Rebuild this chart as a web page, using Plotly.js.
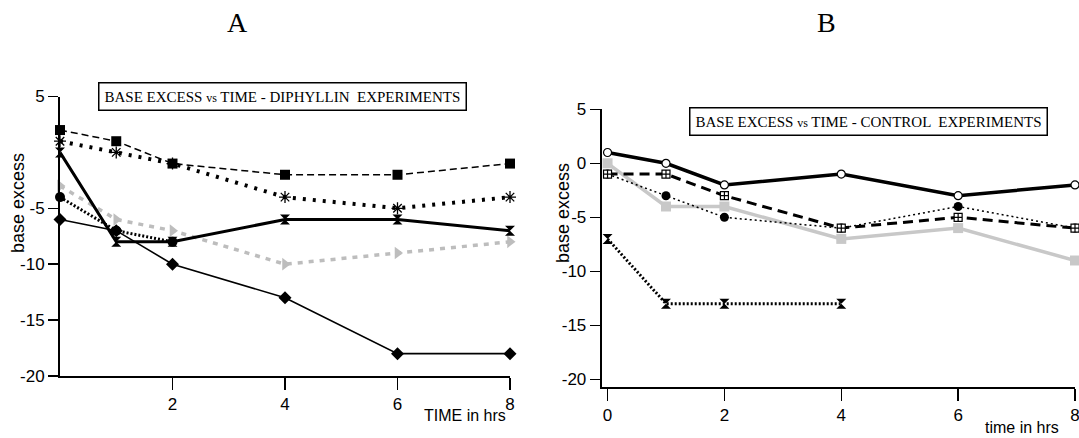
<!DOCTYPE html>
<html>
<head>
<meta charset="utf-8">
<script src="https://cdn.plot.ly/plotly-3.0.1.min.js"></script>
<style>html,body{margin:0;padding:0;background:#fff;}#chart{width:1079px;height:438px;}</style>
</head>
<body>
<div id="chart"></div>
<script>
// ---- Panel A: diphyllin experiments ----
var timeA = [0, 1, 2, 4, 6, 8];
var aSquares   = [2, 1, -1, -2, -2, -1];
var aAsterisks = [1, 0, -1, -4, -5, -4];
var aHourglass = [0, -8, -8, -6, -6, -7];
var aDiamonds  = [-6, -7, -10, -13, -18, -18];
var timeACircles = [0, 1, 2];
var aCircles   = [-4, -7, -8];
var aTriangles = [-3, -6, -7, -10, -9, -8];

// ---- Panel B: control experiments ----
var timeB = [0, 1, 2, 4, 6, 8];
var bOpenCircles = [1, 0, -2, -1, -3, -2];
var bSquareCross = [-1, -1, -3, -6, -5, -6];
var bDots        = [-1, -3, -5, -6, -4, -6];
var bGraySquares = [0, -4, -4, -7, -6, -9];
var timeBHour = [0, 1, 2, 4];
var bHourglass   = [-7, -13, -13, -13];

var xTicksA = [2, 4, 6, 8];
var xTickTextA = ['2', '4', '6', '8'];
var yTicksA = [-20, -15, -10, -5, 5];
var yTickTextA = ['-20', '-15', '-10', '-5', '5'];
var xTicksB = [0, 2, 4, 6, 8];
var xTickTextB = ['0', '2', '4', '6', '8'];
var yTicksB = [-20, -15, -10, -5, 0, 5];
var yTickTextB = ['-20', '-15', '-10', '-5', '0', '5'];

var W = 1079, H = 438;
function px(x){ return x / W; }
function py(y){ return 1 - y / H; }

var BLACK = '#000000', GRAY = '#bdbdbd';

var traces = [
  // Panel A
  {x: timeA, y: aTriangles, xaxis: 'x', yaxis: 'y', mode: 'lines+markers',
   line: {color: GRAY, width: 3.5, dash: '5px,6px'},
   marker: {symbol: 'triangle-right', size: 11, color: GRAY}},
  {x: timeA, y: aDiamonds, xaxis: 'x', yaxis: 'y', mode: 'lines+markers',
   line: {color: BLACK, width: 1.6},
   marker: {symbol: 'diamond', size: 10, color: BLACK}},
  {x: timeA, y: aHourglass, xaxis: 'x', yaxis: 'y', mode: 'lines+markers',
   line: {color: BLACK, width: 3},
   marker: {symbol: 'hourglass', size: 10, color: BLACK}},
  {x: timeACircles, y: aCircles, xaxis: 'x', yaxis: 'y', mode: 'lines+markers',
   line: {color: BLACK, width: 3, dash: '2px,2px'},
   marker: {symbol: 'circle', size: 10, color: BLACK}},
  {x: timeA, y: aAsterisks, xaxis: 'x', yaxis: 'y', mode: 'lines+markers',
   line: {color: BLACK, width: 4, dash: '3px,7px'},
   marker: {symbol: 'asterisk-open', size: 10, color: BLACK, line: {color: BLACK, width: 1.3}}},
  {x: timeA, y: aSquares, xaxis: 'x', yaxis: 'y', mode: 'lines+markers',
   line: {color: BLACK, width: 1.5, dash: '7px,4px'},
   marker: {symbol: 'square', size: 10, color: BLACK}},
  // Panel B
  {x: timeB, y: bGraySquares, xaxis: 'x2', yaxis: 'y2', mode: 'lines+markers',
   line: {color: '#c8c8c8', width: 3.5},
   marker: {symbol: 'square', size: 10, color: '#c8c8c8'}},
  {x: timeBHour, y: bHourglass, xaxis: 'x2', yaxis: 'y2', mode: 'lines+markers',
   line: {color: BLACK, width: 3, dash: '2px,2px'},
   marker: {symbol: 'hourglass', size: 10, color: BLACK}},
  {x: timeB, y: bDots, xaxis: 'x2', yaxis: 'y2', mode: 'lines+markers',
   line: {color: BLACK, width: 1.5, dash: '2px,3px'},
   marker: {symbol: 'circle', size: 9, color: BLACK}},
  {x: timeB, y: bSquareCross, xaxis: 'x2', yaxis: 'y2', mode: 'lines+markers',
   line: {color: BLACK, width: 3, dash: '10px,6px'},
   marker: {symbol: 'square-cross', size: 8, color: '#ffffff', line: {color: BLACK, width: 1.2}}},
  {x: timeB, y: bOpenCircles, xaxis: 'x2', yaxis: 'y2', mode: 'lines+markers',
   line: {color: BLACK, width: 3.5},
   marker: {symbol: 'circle', size: 8, color: '#ffffff', line: {color: BLACK, width: 1.2}}}
];
traces.forEach(function(t){ t.cliponaxis = false; t.showlegend = false; t.hoverinfo = 'skip'; });

var tickFont = {family: '"Liberation Sans Narrow", "Arial Narrow", "Liberation Sans", sans-serif', size: 17, color: BLACK};
function axisCommon(extra){
  var a = {showgrid: false, zeroline: false, showline: true, linecolor: BLACK, linewidth: 2,
           ticks: 'outside', tickcolor: BLACK, tickwidth: 1.5, tickfont: tickFont, fixedrange: true,
           ticklabeloverflow: 'allow'};
  for (var k in extra) a[k] = extra[k];
  return a;
}

var layout = {
  width: W, height: H,
  margin: {l: 0, r: 0, t: 0, b: 0},
  paper_bgcolor: '#ffffff', plot_bgcolor: 'rgba(0,0,0,0)',
  xaxis: axisCommon({domain: [px(60), px(510)], range: [0, 8], tickmode: 'array', tickvals: xTicksA, ticktext: xTickTextA, ticklen: 12, anchor: 'y'}),
  yaxis: axisCommon({domain: [py(376), py(96.5)], range: [-20, 5], tickmode: 'array', tickvals: yTicksA, ticktext: yTickTextA, ticklen: 10, anchor: 'x'}),
  xaxis2: axisCommon({domain: [px(601.7), px(1075)], range: [-0.1, 8], tickmode: 'array', tickvals: xTicksB, ticktext: xTickTextB, ticklen: 12, anchor: 'y2'}),
  yaxis2: axisCommon({domain: [py(386.7), py(109.3)], range: [-20.685, 5], tickmode: 'array', tickvals: yTicksB, ticktext: yTickTextB, ticklen: 10, anchor: 'x2'}),
  annotations: [
    {text: 'A', xref: 'paper', yref: 'paper', x: px(237.5), y: py(22), xanchor: 'center', yanchor: 'middle', showarrow: false,
     font: {family: '"Liberation Serif", "Times New Roman", serif', size: 28, color: BLACK}},
    {text: 'B', xref: 'paper', yref: 'paper', x: px(826), y: py(22), xanchor: 'center', yanchor: 'middle', showarrow: false,
     font: {family: '"Liberation Serif", "Times New Roman", serif', size: 28, color: BLACK}},
    {text: 'BASE EXCESS <span style="font-size:12px">vs</span> TIME - DIPHYLLIN  EXPERIMENTS', xref: 'paper', yref: 'paper',
     x: px(282.5), y: py(97), xanchor: 'center', yanchor: 'middle', showarrow: false,
     bordercolor: BLACK, borderwidth: 1.5, borderpad: 5, bgcolor: '#ffffff',
     font: {family: '"Liberation Serif", "Times New Roman", serif', size: 15, color: BLACK}},
    {text: 'BASE EXCESS <span style="font-size:12px">vs</span> TIME - CONTROL  EXPERIMENTS', xref: 'paper', yref: 'paper',
     x: px(868), y: py(121.5), xanchor: 'center', yanchor: 'middle', showarrow: false,
     bordercolor: BLACK, borderwidth: 1.5, borderpad: 5, bgcolor: '#ffffff',
     font: {family: '"Liberation Serif", "Times New Roman", serif', size: 15, color: BLACK}},
    {text: 'base excess', xref: 'paper', yref: 'paper', x: px(18), y: py(203), textangle: -90,
     xanchor: 'center', yanchor: 'middle', showarrow: false,
     font: {family: '"Liberation Sans", Arial, sans-serif', size: 18, color: BLACK}},
    {text: 'base excess', xref: 'paper', yref: 'paper', x: px(563), y: py(213), textangle: -90,
     xanchor: 'center', yanchor: 'middle', showarrow: false,
     font: {family: '"Liberation Sans", Arial, sans-serif', size: 18, color: BLACK}},
    {text: 'TIME in hrs', xref: 'paper', yref: 'paper', x: px(465), y: py(415),
     xanchor: 'center', yanchor: 'middle', showarrow: false, font: {family: tickFont.family, size: 16, color: BLACK}},
    {text: 'time in hrs', xref: 'paper', yref: 'paper', x: px(1022), y: py(427),
     xanchor: 'center', yanchor: 'middle', showarrow: false,
     font: {family: tickFont.family, size: 16, color: BLACK}}
  ]
};

Plotly.newPlot('chart', traces, layout, {staticPlot: true, displayModeBar: false});
</script>
</body>
</html>
